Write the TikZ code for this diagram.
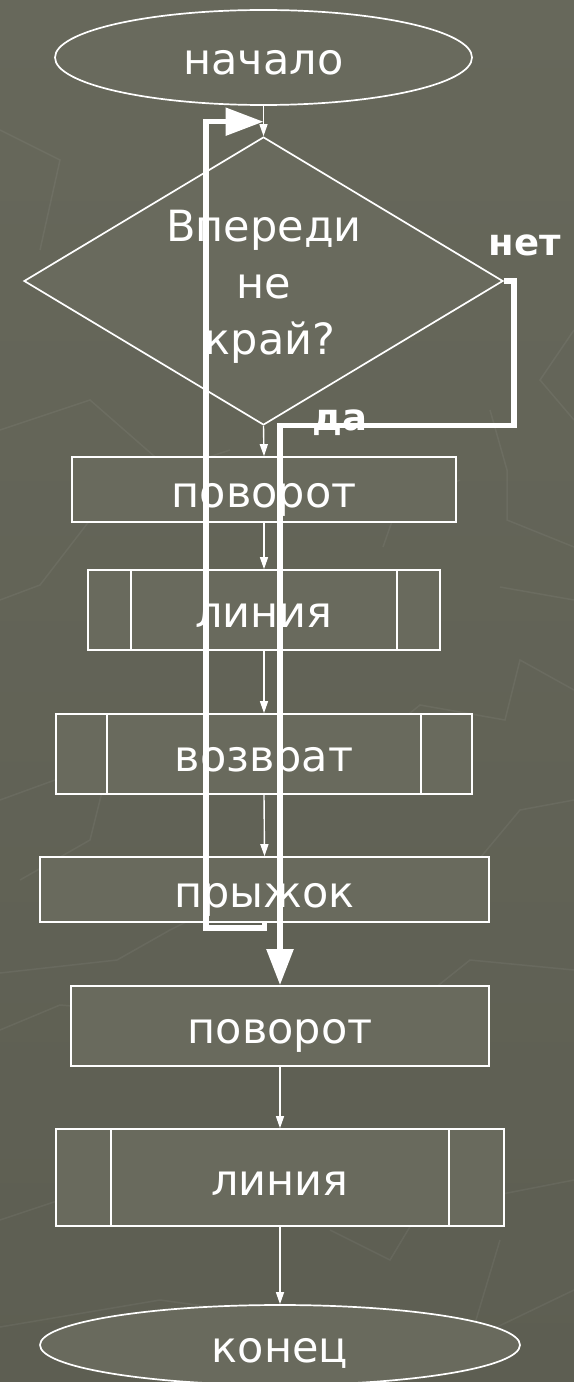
\documentclass[tikz,border=0pt]{standalone}
\usepackage{fontspec}
\setmainfont{DejaVu Sans}
\usetikzlibrary{shapes.geometric,arrows.meta}
\definecolor{bgtop}{HTML}{67685B}
\definecolor{bgbot}{HTML}{5D5E52}
\definecolor{boxfill}{HTML}{696A5D}
\begin{document}
\begin{tikzpicture}[x=1bp,y=1bp,
  outline/.style={draw=white,fill=boxfill,line width=1.7bp,inner sep=0bp,text=white},
  box/.style={outline,rectangle,font=\fontsize{43bp}{52bp}\selectfont,
    text height=45bp,text depth=10bp},
  term/.style={box,ellipse},
  qtext/.style={text=white,inner sep=0bp,anchor=base,font=\fontsize{43bp}{52bp}\selectfont},
  flow/.style={white,line width=1.4bp,-{Triangle[length=12bp,width=8bp]}},
  bold path/.style={white,line width=5.5bp},
  lbl/.style={text=white,inner sep=0bp,font=\bfseries\fontsize{37bp}{40bp}\selectfont},
  streak/.style={white,opacity=0.055,line width=1.5bp}]

\useasboundingbox (0,0) rectangle (574,-1382);
% backdrop with faint streaks
\fill[bgbot] (-10,10) rectangle (584,-1392);
\shade[top color=bgtop,bottom color=bgbot] (-10,10) rectangle (584,-1392);
\draw[streak] (0,-430) -- (90,-400) -- (170,-470) -- (230,-450);
\draw[streak] (574,-547) -- (507,-520) -- (507,-470) -- (490,-410);
\draw[streak] (500,-587) -- (574,-600);
\draw[streak] (383,-547) -- (397,-507) -- (460,-480);
\draw[streak] (0,-600) -- (40,-585) -- (90,-520);
\draw[streak] (574,-690) -- (520,-660) -- (505,-720) -- (420,-705) -- (340,-770);
\draw[streak] (0,-800) -- (110,-760) -- (90,-840) -- (20,-880);
\draw[streak] (574,-800) -- (520,-810) -- (470,-870);
\draw[streak] (574,-970) -- (470,-960) -- (420,-1000);
\draw[streak] (0,-973) -- (117,-960) -- (170,-930) -- (230,-900);
\draw[streak] (0,-1030) -- (60,-1005) -- (120,-1010);
\draw[streak] (0,-1220) -- (60,-1200) -- (110,-1150);
\draw[streak] (500,-1240) -- (470,-1340) -- (574,-1290);
\draw[streak] (0,-1327) -- (160,-1300) -- (270,-1315);
\draw[streak] (330,-1230) -- (390,-1260) -- (420,-1210) -- (574,-1180);
\draw[streak] (574,-330) -- (540,-380) -- (574,-420);
\draw[streak] (0,-130) -- (60,-160) -- (40,-250);

% blocks
\node[term,minimum width=417bp,minimum height=95bp] (start) at (263.5,-57.5) {начало};
\node[outline,diamond,minimum width=479bp,minimum height=288bp] (cond) at (263.5,-281) {};
\node[qtext] (q1) at (264,-242) {Впереди};
\node[qtext] (q2) at (264,-298) {не};
\node[qtext] (q3) at (270,-354) {край?};

\node[box,minimum width=384bp,minimum height=65bp] (p1) at (264,-489.5) {поворот};
\node[box,minimum width=352bp,minimum height=80bp] (l1) at (264,-610) {линия};
\node[box,minimum width=416bp,minimum height=80bp] (ret) at (264,-754) {возврат};
\node[box,minimum width=449bp,minimum height=65bp] (jump) at (264.5,-889.5) {прыжок};
\node[box,minimum width=418bp,minimum height=80bp] (p2) at (280,-1026) {поворот};
\node[box,minimum width=448bp,minimum height=97bp] (l2) at (280,-1177.5) {линия};
\node[term,minimum width=480bp,minimum height=80bp] (end) at (280,-1345) {конец};

% side bars of the subroutine blocks
\foreach \n/\d in {l1/44,ret/52,l2/56}{
  \draw[white,line width=1.7bp] ([xshift=\d bp]\n.north west) -- ([xshift=\d bp]\n.south west);
  \draw[white,line width=1.7bp] ([xshift=-\d bp]\n.north east) -- ([xshift=-\d bp]\n.south east);
}

% thin flow arrows
\draw[flow] (start.south) -- (cond.north);
\draw[flow] (cond.south) -- (p1.north);
\draw[flow] (p1.south) -- (l1.north);
\draw[flow] (l1.south) -- (ret.north);
\draw[flow] (ret.south) -- (jump.north);
\draw[flow] (p2.south) -- (l2.north);
\draw[flow] (l2.south) -- (end.north);

% branch labels
\node[lbl] (no) at (525,-245) {нет};
\node[lbl] (yes) at (340,-423) {да};

% loop back to the test
\draw[bold path,-{Triangle[length=38bp,width=27bp]}]
  (jump.south) -- ++(0,-5) -| (206,-121.7) -- (start.south |- 0,-121.7);

% exit branch
\draw[bold path,-{Triangle[length=36bp,width=26bp]}]
  (cond.east) -- ++(10,0) |- (p2.north |- 0,-425.5) -- (p2.north);
\end{tikzpicture}
\end{document}
